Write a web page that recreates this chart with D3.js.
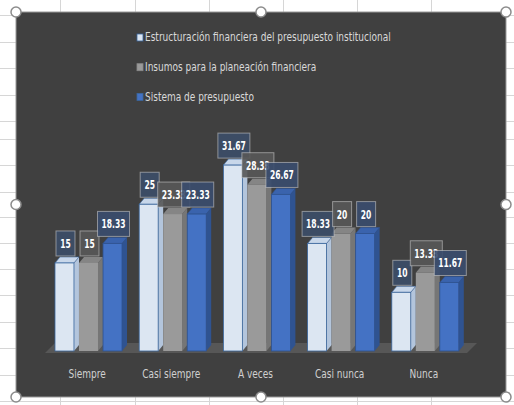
<!DOCTYPE html>
<html>
<head>
<meta charset="utf-8">
<script src="https://cdn.jsdelivr.net/npm/d3@7"></script>
<style>
html,body{margin:0;padding:0;background:#fff;}
svg{display:block;}
</style>
</head>
<body>
<svg id="chart" width="514" height="405"></svg>
<script>
const categories = ["Siempre", "Casi siempre", "A veces", "Casi nunca", "Nunca"];
const seriesNames = [
  "Estructuración financiera del presupuesto institucional",
  "Insumos para la planeación financiera",
  "Sistema de presupuesto"
];
const estructuracion = [15, 25, 31.67, 18.33, 10];
const insumos = [15, 23.33, 28.33, 20, 13.33];
const sistema = [18.33, 23.33, 26.67, 20, 11.67];
const seriesValues = [estructuracion, insumos, sistema];

const FONT = "'DejaVu Sans Condensed','Liberation Sans',sans-serif";
const svg = d3.select("#chart");

// horizontal squeeze helper (reference font is a narrow face)
function squeeze(sel, k) {
  sel.each(function () {
    const t = d3.select(this);
    const ax = +t.attr("x");
    t.attr("transform", `translate(${ax},0) scale(${k},1) translate(${-ax},0)`);
  });
}
function measure(str, size, weight) {
  const t = svg.append("text").attr("font-family", FONT).attr("font-size", size)
    .attr("font-weight", weight).text(str);
  const w = t.node().getComputedTextLength();
  t.remove();
  return w;
}

// spreadsheet background
svg.append("rect").attr("width", 514).attr("height", 405).attr("fill", "#ffffff");
const gridG = svg.append("g").attr("stroke", "#d6d6d6").attr("stroke-width", 1);
[60, 135, 209, 283, 357, 431].forEach(x =>
  gridG.append("line").attr("x1", x + 0.5).attr("x2", x + 0.5).attr("y1", 0).attr("y2", 405));
[15, 42, 68, 95, 121, 139, 165, 192, 217, 243, 269, 295, 322, 348, 375, 401].forEach(y =>
  gridG.append("line").attr("x1", 0).attr("x2", 514).attr("y1", y + 0.5).attr("y2", y + 0.5));

// chart area
const cx0 = 16, cy0 = 12, cw = 490, ch = 385;
svg.append("rect").attr("x", cx0).attr("y", cy0).attr("width", cw).attr("height", ch)
  .attr("fill", "#404040").attr("stroke", "#9a9a9a").attr("stroke-width", 1);

// scales
const x = d3.scaleBand().domain(categories).range([45, 466]);
const xSub = d3.scaleBand().domain(seriesNames).range([10, 77]).paddingInner(0.21);
const y = d3.scaleLinear().domain([0, 35]).range([351, 351 - 35 * 5.87]);
const DX = 5, DY = 6;

// floor
const fl = 45, fr = 467, fy = 353;
svg.append("polygon")
  .attr("points", [[fl, fy], [fr, fy], [fr + 10, fy - 10], [fl + 10, fy - 10]].map(p => p.join(",")).join(" "))
  .attr("fill", "#575757");

const colors = [
  {front: "#dce6f2", side: "#b3c5dc", top: "#c8d7ea", stroke: "#3a679f", label: "rgba(60,78,104,0.9)"},
  {front: "#9a9a9a", side: "#767676", top: "#858585", stroke: "none", label: "rgba(88,88,88,0.9)"},
  {front: "#4472c4", side: "#2f5391", top: "#3a63ad", stroke: "#2f5391", label: "rgba(58,76,110,0.9)"}
];

const barsG = svg.append("g");
const bw = xSub.bandwidth();
categories.forEach((c, ci) => {
  seriesNames.forEach((s, si) => {
    const v = seriesValues[si][ci];
    const x0 = x(c) + xSub(s);
    const yt = y(v), yb = y(0);
    const col = colors[si];
    const g = barsG.append("g");
    g.append("polygon")
      .attr("points", [[x0 + bw, yt], [x0 + bw + DX, yt - DY], [x0 + bw + DX, yb - DY], [x0 + bw, yb]].map(p => p.join(",")).join(" "))
      .attr("fill", col.side);
    g.append("polygon")
      .attr("points", [[x0, yt], [x0 + DX, yt - DY], [x0 + bw + DX, yt - DY], [x0 + bw, yt]].map(p => p.join(",")).join(" "))
      .attr("fill", col.top).attr("stroke", col.stroke).attr("stroke-width", 0.6);
    g.append("rect").attr("x", x0).attr("y", yt).attr("width", bw).attr("height", yb - yt)
      .attr("fill", col.front).attr("stroke", col.stroke).attr("stroke-width", 0.8);
  });
});

// data labels
const kLab = 24 / measure("18.33", 12.5, "bold");
const labG = svg.append("g");
categories.forEach((c, ci) => {
  seriesNames.forEach((s, si) => {
    const v = seriesValues[si][ci];
    const cxm = x(c) + xSub(s) + bw / 2 + 1;
    const bottom = y(v) - DY - 1;
    const g = labG.append("g");
    const rect = g.append("rect");
    const t = g.append("text").text(d3.format("~r")(v))
      .attr("x", cxm).attr("y", bottom - 8)
      .attr("text-anchor", "middle")
      .attr("font-family", FONT).attr("font-weight", "bold").attr("font-size", 12.5)
      .attr("fill", "#ffffff");
    const tw = t.node().getComputedTextLength() * kLab;
    squeeze(t, kLab);
    const w = Math.max(19, tw + 8);
    rect.attr("x", cxm - w / 2).attr("y", bottom - 25).attr("width", w).attr("height", 25)
      .attr("fill", colors[si].label).attr("stroke", "rgba(210,210,210,0.55)").attr("stroke-width", 1);
  });
});

// legend
const kTxt = 246 / measure(seriesNames[0], 12, "normal");
const legG = svg.append("g");
seriesNames.forEach((s, i) => {
  const ly = 34 + i * 29.7;
  legG.append("rect").attr("x", 137).attr("y", ly).attr("width", 6).attr("height", 7)
    .attr("fill", colors[i].front).attr("stroke", i === 1 ? "#8a8a8a" : "#3a679f").attr("stroke-width", 0.8);
  legG.append("text").attr("x", 145).attr("y", ly + 7.5)
    .attr("font-family", FONT).attr("font-size", 12)
    .attr("fill", "#d9d9d9").text(s)
    .call(squeeze, kTxt);
});

// category labels
svg.append("g").selectAll("text").data(categories).join("text")
  .attr("x", d => x(d) + x.bandwidth() / 2)
  .attr("y", 378)
  .attr("text-anchor", "middle")
  .attr("font-family", FONT).attr("font-size", 12)
  .attr("fill", "#d0d0d0")
  .text(d => d)
  .call(squeeze, kTxt);

// selection handles
const hx = [cx0, cx0 + cw / 2, cx0 + cw], hy = [cy0, cy0 + ch / 2, cy0 + ch];
const handles = [];
hx.forEach((hxv, i) => hy.forEach((hyv, j) => { if (!(i === 1 && j === 1)) handles.push([hxv, hyv]); }));
svg.append("g").selectAll("circle").data(handles).join("circle")
  .attr("cx", d => d[0]).attr("cy", d => d[1]).attr("r", 5)
  .attr("fill", "#ffffff").attr("stroke", "#8c8c8c").attr("stroke-width", 1.5);
</script>
</body>
</html>
